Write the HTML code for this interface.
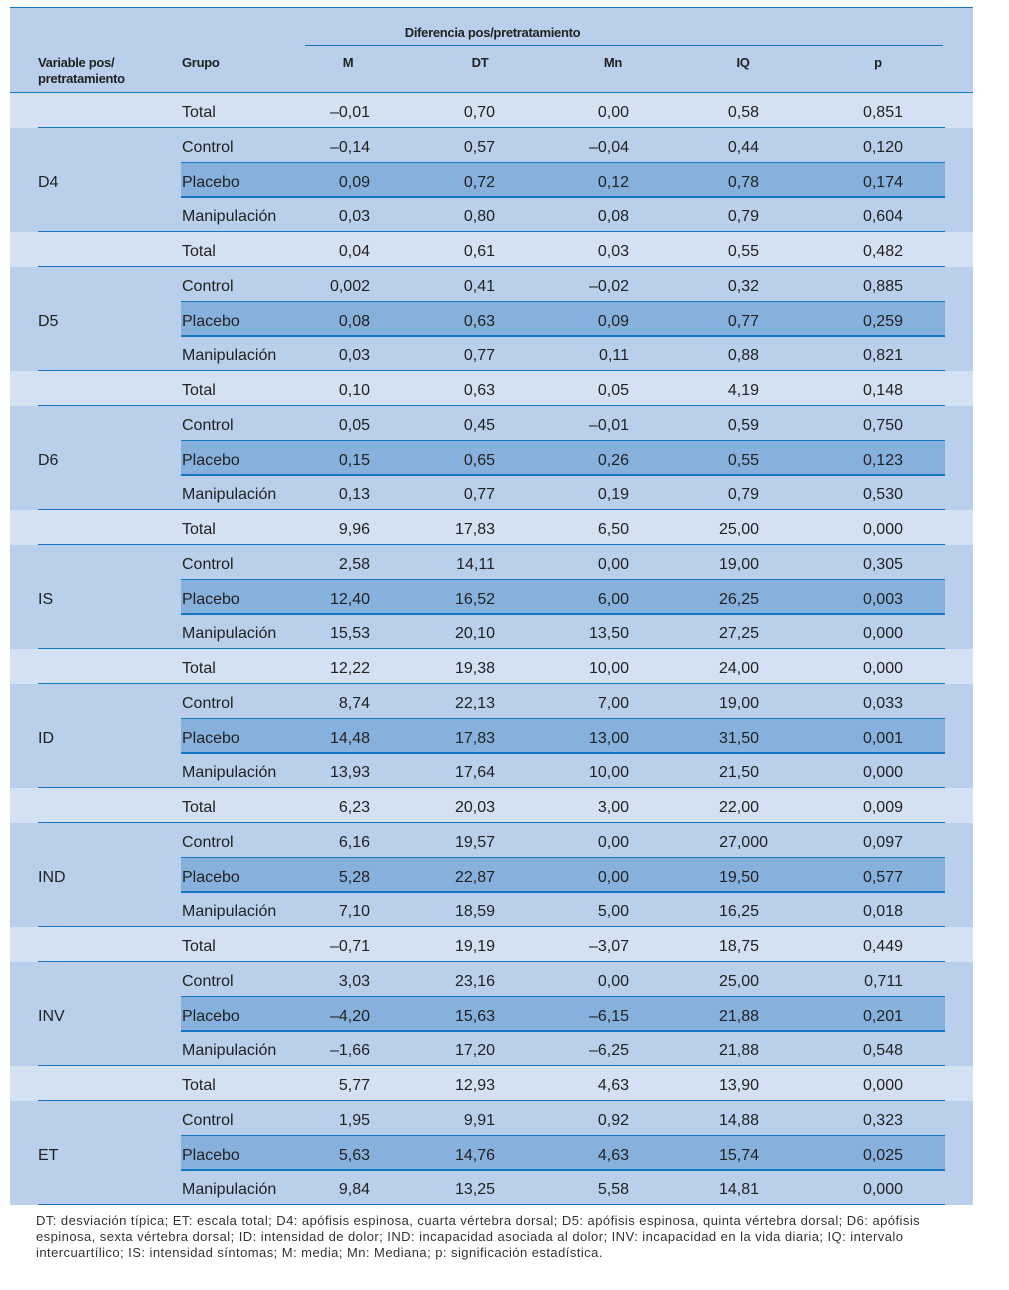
<!DOCTYPE html>
<html><head><meta charset="utf-8">
<style>
body{margin:0;width:1009px;height:1290px;background:#fff;position:relative;font-family:"Liberation Sans",Arial,sans-serif;color:#222;overflow:hidden}
.a{position:absolute}
.t{position:absolute;font-size:16px;line-height:20px;white-space:nowrap}
.h{position:absolute;font-size:13px;font-weight:bold;line-height:16px;white-space:nowrap;letter-spacing:-0.3px}
.ln{position:absolute;height:1.3px;background:#1576c2}
</style></head><body>
<div class="a" style="left:10px;top:8px;width:963px;height:1197px;background:#b9cfeb"></div>
<div class="ln" style="left:10px;top:7px;width:963px"></div>
<div class="h" style="left:305px;width:375px;top:25px;text-align:center">Diferencia pos/pretratamiento</div>
<div class="ln" style="left:305px;top:45px;width:638px"></div>
<div class="h" style="left:38px;top:55px">Variable pos/<br>pretratamiento</div>
<div class="h" style="left:182px;top:55px">Grupo</div>
<div class="h" style="left:308px;width:80px;top:55px;text-align:center">M</div>
<div class="h" style="left:440px;width:80px;top:55px;text-align:center">DT</div>
<div class="h" style="left:573px;width:80px;top:55px;text-align:center">Mn</div>
<div class="h" style="left:703px;width:80px;top:55px;text-align:center">IQ</div>
<div class="h" style="left:838px;width:80px;top:55px;text-align:center">p</div>
<div class="ln" style="left:10px;top:92px;width:963px"></div>
<div id="rows"></div>
<div class="a" style="left:36px;top:1213px;width:960px;font-size:13px;line-height:16px;color:#333;white-space:nowrap;letter-spacing:0.45px">DT: desviación típica; ET: escala total; D4: apófisis espinosa, cuarta vértebra dorsal; D5: apófisis espinosa, quinta vértebra dorsal; D6: apófisis<br>espinosa, sexta vértebra dorsal; ID: intensidad de dolor; IND: incapacidad asociada al dolor; INV: incapacidad en la vida diaria; IQ: intervalo<br>intercuartílico; IS: intensidad síntomas; M: media; Mn: Mediana; p: significación estadística.</div>
<script>
const variables=["D4","D5","D6","IS","ID","IND","INV","ET"];
const groups=["Total","Control","Placebo","Manipulación"];
const M=[["–0,01","–0,14","0,09","0,03"],["0,04","0,002","0,08","0,03"],["0,10","0,05","0,15","0,13"],["9,96","2,58","12,40","15,53"],["12,22","8,74","14,48","13,93"],["6,23","6,16","5,28","7,10"],["–0,71","3,03","–4,20","–1,66"],["5,77","1,95","5,63","9,84"]];
const DT=[["0,70","0,57","0,72","0,80"],["0,61","0,41","0,63","0,77"],["0,63","0,45","0,65","0,77"],["17,83","14,11","16,52","20,10"],["19,38","22,13","17,83","17,64"],["20,03","19,57","22,87","18,59"],["19,19","23,16","15,63","17,20"],["12,93","9,91","14,76","13,25"]];
const MN=[["0,00","–0,04","0,12","0,08"],["0,03","–0,02","0,09","0,11"],["0,05","–0,01","0,26","0,19"],["6,50","0,00","6,00","13,50"],["10,00","7,00","13,00","10,00"],["3,00","0,00","0,00","5,00"],["–3,07","0,00","–6,15","–6,25"],["4,63","0,92","4,63","5,58"]];
const IQ=[["0,58","0,44","0,78","0,79"],["0,55","0,32","0,77","0,88"],["4,19","0,59","0,55","0,79"],["25,00","19,00","26,25","27,25"],["24,00","19,00","31,50","21,50"],["22,00","27,000","19,50","16,25"],["18,75","25,00","21,88","21,88"],["13,90","14,88","15,74","14,81"]];
const P=[["0,851","0,120","0,174","0,604"],["0,482","0,885","0,259","0,821"],["0,148","0,750","0,123","0,530"],["0,000","0,305","0,003","0,000"],["0,000","0,033","0,001","0,000"],["0,009","0,097","0,577","0,018"],["0,449","0,711","0,201","0,548"],["0,000","0,323","0,025","0,000"]];
const cols=[[M,370,"m"],[DT,495,"dt"],[MN,629,"mn"],[IQ,759,"iq"],[P,903,"p"]];
const root=document.getElementById('rows');
const top0=93, rh=34.75;
function mk(cls,st,txt){const d=document.createElement('div');d.className=cls;d.setAttribute('style',st);if(txt!==undefined)d.textContent=txt;root.appendChild(d);return d;}
variables.forEach((v,vi)=>{
  for(let gi=0;gi<4;gi++){
    const y=top0+(vi*4+gi)*rh;
    if(gi===0){const b=mk('a',`left:10px;top:${y}px;width:963px;height:${rh}px;background:#d4e1f3`);
      
      }
    if(gi===2){const b=mk('a',`left:181px;top:${y}px;width:764px;height:${rh}px;background:#87b1dd`);
      
      }
    const l=(gi===1||gi===2)?181:38;
    const ln=mk('ln',`left:${l}px;top:${y+rh-1}px;width:${945-l}px`);
    
    
    const g=mk('t',`left:182px;top:${y+10}px`,groups[gi]);
    
    
    cols.forEach(([arr,rx,nm])=>{
      const val=arr[vi][gi];
      const extra=(nm==="iq"&&val.split(',')[1].length>2)?9:0;
      const c=mk('t',`left:${rx+extra-100}px;width:100px;text-align:right;top:${y+10}px`,val);
      
      
    });
  }
  const vl=mk('t',`left:38px;top:${top0+(vi*4+2)*rh+10}px`,v);
  
  
});
</script>
</body></html>
